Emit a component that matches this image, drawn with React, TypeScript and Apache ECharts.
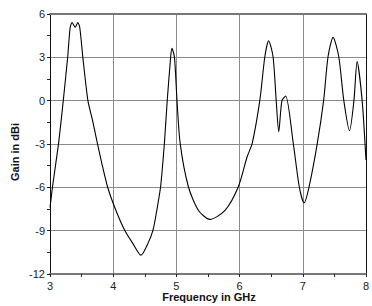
import React, { useEffect, useRef } from "react";
import * as echarts from "echarts";

const freq = [
  3.0, 3.04, 3.09, 3.14, 3.21, 3.28, 3.32, 3.35, 3.4, 3.44, 3.47, 3.52, 3.6, 3.67,
  3.74, 3.82, 3.91, 4.02, 4.18, 4.31, 4.44, 4.55, 4.63, 4.69, 4.75, 4.81, 4.855,
  4.91, 4.93, 4.97, 5.01, 5.06, 5.19, 5.35, 5.53, 5.77, 5.98, 6.12, 6.2, 6.32,
  6.4, 6.46, 6.53, 6.58, 6.62, 6.67, 6.73, 6.85, 6.945, 7.02, 7.1, 7.23, 7.33,
  7.4, 7.48, 7.57, 7.65, 7.74, 7.81, 7.86, 7.94, 8.0,
];
const gain = [
  -7.4, -5.96, -4.4, -2.8, 0, 3.04, 5.1, 5.4, 5.08, 5.4, 5.1, 3.0, 0, -1.3,
  -2.75, -4.34, -5.96, -7.34, -8.96, -9.88, -10.69, -9.88, -8.96, -7.6, -5.96, -2.96, 0,
  3.04, 3.62, 3.0, 0, -2.96, -5.96, -7.6, -8.22, -7.6, -5.96, -3.88, -2.96, 0,
  3.04, 4.15, 3.04, 0, -2.15, 0, 0.32, -2.96, -5.96, -7.07, -5.96, -2.96, 0,
  3.04, 4.38, 3.04, 0, -2.08, 0, 2.7, 0, -4.1,
];
const xTicks = { min: 3, max: 8, interval: 1 };
const yTicks = { min: -12, max: 6, interval: 3 };

export default function App() {
  const ref = useRef<HTMLDivElement>(null);
  useEffect(() => {
    if (!ref.current) return;
    document.body.style.margin = "0";
    document.body.style.overflow = "hidden";
    const chart = echarts.init(ref.current, null, { renderer: "svg" });
    const data = freq.map((f, i) => [f, gain[i]]);
    const labelStyle = { color: "#222", fontSize: 11, fontFamily: "Liberation Sans, Arial, sans-serif" };
    chart.setOption({
      animation: false,
      grid: { left: 50, top: 14, right: 3, bottom: 32 },
      xAxis: [
        {
          type: "value",
          min: xTicks.min,
          max: xTicks.max,
          interval: xTicks.interval,
          axisLine: { show: true, onZero: false, lineStyle: { color: "#777", width: 2 } },
          axisTick: { show: true, length: 3, lineStyle: { color: "#222" } },
          minorTick: { show: true, splitNumber: 2, length: 3, lineStyle: { color: "#222" } },
          splitLine: { show: true, lineStyle: { color: "#8a8a8a", width: 1 } },
          axisLabel: { ...labelStyle, margin: 6 },
        },
        {
          type: "value",
          position: "top",
          min: xTicks.min,
          max: xTicks.max,
          interval: xTicks.interval,
          axisLine: { show: true, onZero: false, lineStyle: { color: "#777", width: 2 } },
          axisTick: { show: false },
          axisLabel: { show: false },
          splitLine: { show: false },
        },
      ],
      yAxis: [
        {
          type: "value",
          min: yTicks.min,
          max: yTicks.max,
          interval: yTicks.interval,
          axisLine: { show: true, onZero: false, lineStyle: { color: "#111", width: 1 } },
          axisTick: { show: true, length: 3, lineStyle: { color: "#222" } },
          minorTick: { show: true, splitNumber: 2, length: 3, lineStyle: { color: "#222" } },
          splitLine: { show: true, lineStyle: { color: "#8a8a8a", width: 1 } },
          axisLabel: { ...labelStyle, margin: 5 },
        },
        {
          type: "value",
          position: "right",
          min: yTicks.min,
          max: yTicks.max,
          interval: yTicks.interval,
          axisLine: { show: true, onZero: false, lineStyle: { color: "#111", width: 1 } },
          axisTick: { show: false },
          axisLabel: { show: false },
          splitLine: { show: false },
        },
      ],
      graphic: [
        {
          type: "text",
          x: 209,
          y: 297,
          style: {
            text: "Frequency in GHz",
            fill: "#111",
            font: "bold 11px 'Liberation Sans', Arial, sans-serif",
            align: "center",
            verticalAlign: "middle",
          },
        },
        {
          type: "text",
          x: 15,
          y: 152,
          rotation: Math.PI / 2,
          style: {
            text: "Gain in dBi",
            fill: "#111",
            font: "bold 11px 'Liberation Sans', Arial, sans-serif",
            align: "center",
            verticalAlign: "middle",
          },
        },
      ],
      series: [
        {
          type: "line",
          data,
          smooth: 0.25,
          showSymbol: false,
          lineStyle: { color: "#000", width: 1.1 },
        },
      ],
    });
    return () => chart.dispose();
  }, []);
  return (
    <div
      ref={ref}
      style={{ position: "absolute", left: 0, top: 0, width: 372, height: 306 }}
    />
  );
}
